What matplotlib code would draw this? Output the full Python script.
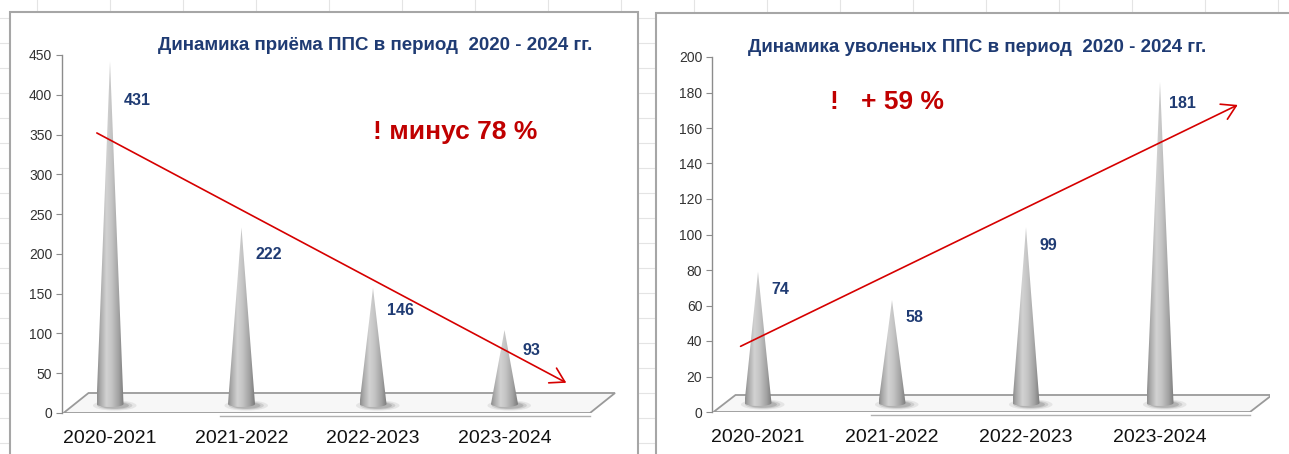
import numpy as np
import matplotlib
matplotlib.use('Agg')
import matplotlib.pyplot as plt
from matplotlib.patches import Polygon, Rectangle, Ellipse
from matplotlib import transforms
from matplotlib.colors import LinearSegmentedColormap

# ---------------- data ----------------
categories = ['2020-2021', '2021-2022', '2022-2023', '2023-2024']
hired = [431, 222, 146, 93]
dismissed = [74, 58, 99, 181]
hired_ticks = list(range(0, 451, 50))
dismissed_ticks = list(range(0, 201, 20))
title_hired = 'Динамика приёма ППС в период  2020 - 2024 гг.'
title_dismissed = 'Динамика уволеных ППС в период  2020 - 2024 гг.'
note_hired = '! минус 78 %'
note_dismissed = '!   + 59 %'
trend_hired = [(-0.10, 352), (3.47, 38)]        # hand-drawn arrow (data units)
trend_dismissed = [(-0.13, 37), (3.58, 173)]

# ---------------- style ----------------
plt.rcParams['font.family'] = ['Liberation Sans Narrow', 'Liberation Sans', 'DejaVu Sans']
NAVY = '#1F3B73'
RED = '#C00000'
ARROW_RED = '#D60000'
W, H = 1289, 454
fig = plt.figure(figsize=(W / 100, H / 100), dpi=100)


def fx(x):
    return x / W


def fy(y):
    return 1 - y / H


# background canvas (sheet grid + chart frames)
bg = fig.add_axes([0, 0, 1, 1], zorder=0)
bg.set_xlim(0, W)
bg.set_ylim(H, 0)
bg.axis('off')
for gx in np.arange(37, W, 73):
    bg.plot([gx, gx], [0, H], color='#e4e4e4', lw=0.8, zorder=0.5)
for gy in np.arange(18, H, 25):
    bg.plot([0, W], [gy, gy], color='#e4e4e4', lw=0.8, zorder=0.5)
bg.add_patch(Rectangle((10, 12), 628, 460, facecolor='white', edgecolor='#a6a6a6', lw=1.5, zorder=1))
bg.add_patch(Rectangle((656, 13), 660, 460, facecolor='white', edgecolor='#a6a6a6', lw=1.5, zorder=1))

cone_cmap = LinearSegmentedColormap.from_list(
    'cone', [(0.0, '#8c8c8c'), (0.12, '#a8a8a8'), (0.35, '#d2d2d2'),
             (0.55, '#c4c4c4'), (0.8, '#a2a2a2'), (1.0, '#7a7a7a')])


def make_chart(rect_px, zero_px, top_px, ymax, ticks, values, xc0_px, step_px,
               front_right_px, depth_px, trend, label_scale, label_dx, title,
               title_xy, note, note_xy):
    left, right = rect_px
    ax = fig.add_axes([fx(left), fy(zero_px), fx(right - left), (zero_px - top_px) / H], zorder=2)
    ax.patch.set_alpha(0)
    x_lo = (left - xc0_px) / step_px
    x_hi = (right - xc0_px) / step_px
    ppu_x = step_px
    ppu_y = (zero_px - top_px) / ymax

    lift = transforms.offset_copy(ax.transData, fig=fig, x=0, y=9, units='dots')

    # floor
    dxp, dyp = depth_px
    fr = (front_right_px - xc0_px) / step_px
    fl = x_lo + 1.5 / ppu_x
    floor = Polygon([(fl, 0), (fl + dxp / ppu_x, dyp / ppu_y),
                     (fr + dxp / ppu_x, dyp / ppu_y), (fr, 0)], closed=True,
                    facecolor='#f7f7f7', edgecolor='#9a9a9a', lw=1.3, zorder=1)
    ax.add_patch(floor)
    ax.plot([0.84, fr], [-2.5 / ppu_y, -2.5 / ppu_y], color='#b0b0b0', lw=1.0, zorder=1,
            clip_on=False)

    half_w = 13.5 / ppu_x
    ell_h = 3.0 / ppu_y
    grad = np.linspace(0, 1, 256).reshape(1, -1)
    t = np.linspace(np.pi, 2 * np.pi, 40)
    for i, v in enumerate(values):
        # base shadow
        for k, a in zip([2.6, 2.1, 1.7], [0.10, 0.15, 0.2]):
            sh = Ellipse((i + 0.35 * half_w, -0.5 * ell_h), width=k * half_w * 2 * 0.62,
                         height=ell_h * k * 1.3, facecolor='#4a4a4a', edgecolor='none',
                         alpha=a, transform=lift, zorder=2)
            ax.add_patch(sh)
        pts = [(i, v)] + list(zip(i + half_w * np.cos(t), ell_h * np.sin(t)))
        poly = Polygon(pts, closed=True, facecolor='none', edgecolor='none', transform=lift)
        ax.add_patch(poly)
        img = ax.imshow(grad, cmap=cone_cmap, extent=(i - half_w, i + half_w, -ell_h, v),
                        aspect='auto', transform=lift, zorder=3, interpolation='bilinear')
        img.set_clip_path(poly)
        lab_tr = transforms.offset_copy(ax.transData, fig=fig, x=label_dx, y=-6, units='dots')
        ax.text(i, v * label_scale, str(v), transform=lab_tr, ha='center', va='center',
                fontsize=11.5, fontweight='bold', color=NAVY, zorder=6)

    ax.annotate('', xy=trend[1], xytext=trend[0],
                arrowprops=dict(arrowstyle='->,head_length=0.5,head_width=0.3',
                                color=ARROW_RED, lw=1.2, mutation_scale=20,
                                shrinkA=0, shrinkB=0), zorder=7)

    ax.set_xlim(x_lo, x_hi)
    ax.set_ylim(0, ymax)
    ax.set_yticks(ticks)
    ax.set_yticklabels([str(v) for v in ticks])
    ax.set_xticks(range(len(categories)))
    ax.set_xticklabels(categories)
    for s in ['top', 'right', 'bottom']:
        ax.spines[s].set_visible(False)
    ax.spines['left'].set_color('#8c8c8c')
    ax.spines['left'].set_linewidth(1.0)
    ax.tick_params(axis='y', length=4, color='#8c8c8c', labelsize=10, labelcolor='#333333', pad=3)
    ax.tick_params(axis='x', length=0, labelsize=14, labelcolor='#111111', pad=12)

    fig.text(fx(title_xy[0]), fy(title_xy[1]), title, ha='center', va='center',
             fontsize=13.5, fontweight='bold', color=NAVY)
    fig.text(fx(note_xy[0]), fy(note_xy[1]), note, ha='center', va='center',
             fontsize=19, fontweight='bold', color=RED)
    return ax


make_chart((62, 620), 413, 55, 450, hired_ticks, hired, 110, 131.5, 590, (25, 20),
           trend_hired, 0.93, 27, title_hired, (375, 46), note_hired, (455, 132))
make_chart((712, 1270), 412, 57, 200, dismissed_ticks, dismissed, 758, 134, 1250, (22, 17),
           trend_dismissed, 0.98, 22, title_dismissed, (977, 47), note_dismissed, (887, 102))

fig.savefig('out.png', dpi=100)
